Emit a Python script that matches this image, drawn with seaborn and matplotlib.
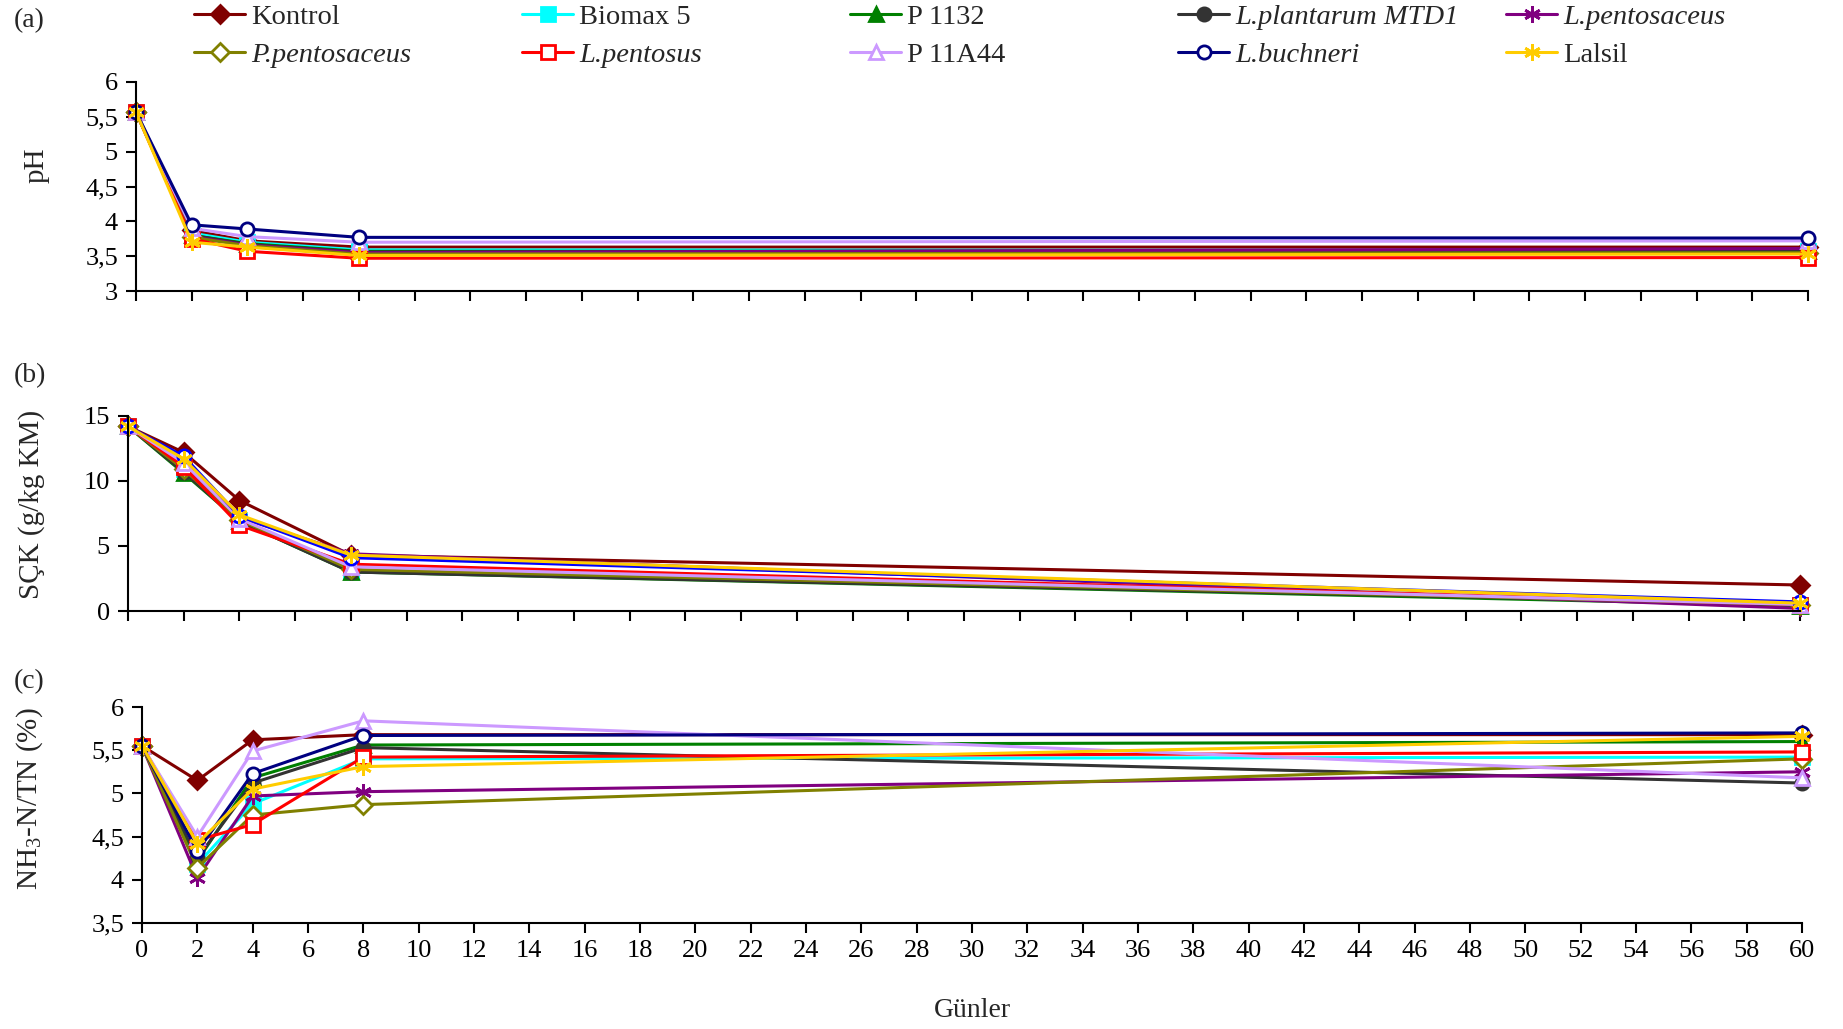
import matplotlib
matplotlib.use('Agg')
import matplotlib.pyplot as plt
from matplotlib.ticker import FuncFormatter, MultipleLocator
import seaborn as sns
import pandas as pd

# Data
days = [0, 2, 4, 8, 60]
groups = ['Kontrol', 'Biomax 5', 'P 1132', 'L.plantarum MTD1', 'L.pentosaceus',
          'P.pentosaceus', 'L.pentosus', 'P 11A44', 'L.buchneri', 'Lalsil']

ph = {
    'Kontrol':          [5.57, 3.87, 3.72, 3.63, 3.63],
    'Biomax 5':         [5.57, 3.83, 3.70, 3.59, 3.58],
    'P 1132':           [5.57, 3.80, 3.68, 3.57, 3.57],
    'L.plantarum MTD1': [5.57, 3.80, 3.67, 3.56, 3.59],
    'L.pentosaceus':    [5.57, 3.78, 3.66, 3.55, 3.61],
    'P.pentosaceus':    [5.57, 3.77, 3.65, 3.53, 3.55],
    'L.pentosus':       [5.57, 3.75, 3.57, 3.47, 3.48],
    'P 11A44':          [5.57, 3.90, 3.78, 3.70, 3.72],
    'L.buchneri':       [5.57, 3.95, 3.89, 3.77, 3.76],
    'Lalsil':           [5.57, 3.70, 3.63, 3.51, 3.53],
}
sck = {
    'Kontrol':          [14.2, 12.2, 8.5, 4.3, 2.0],
    'Biomax 5':         [14.2, 10.9, 7.0, 3.1, 0.5],
    'P 1132':           [14.2, 10.6, 6.9, 3.0, 0.4],
    'L.plantarum MTD1': [14.2, 10.7, 6.9, 3.0, 0.5],
    'L.pentosaceus':    [14.2, 11.2, 7.2, 4.4, 0.2],
    'P.pentosaceus':    [14.2, 10.9, 7.0, 3.2, 0.5],
    'L.pentosus':       [14.2, 11.1, 6.6, 3.6, 0.5],
    'P 11A44':          [14.2, 11.4, 7.1, 3.4, 0.5],
    'L.buchneri':       [14.2, 11.9, 7.3, 4.1, 0.7],
    'Lalsil':           [14.2, 11.7, 7.4, 4.3, 0.6],
}
nh3 = {
    'Kontrol':          [5.55, 5.15, 5.62, 5.68, 5.68],
    'Biomax 5':         [5.55, 4.18, 4.88, 5.40, 5.42],
    'P 1132':           [5.55, 4.22, 5.18, 5.56, 5.60],
    'L.plantarum MTD1': [5.55, 4.25, 5.12, 5.53, 5.12],
    'L.pentosaceus':    [5.55, 4.02, 4.97, 5.02, 5.25],
    'P.pentosaceus':    [5.55, 4.14, 4.75, 4.87, 5.40],
    'L.pentosus':       [5.55, 4.46, 4.64, 5.42, 5.48],
    'P 11A44':          [5.55, 4.50, 5.49, 5.84, 5.18],
    'L.buchneri':       [5.55, 4.33, 5.23, 5.67, 5.70],
    'Lalsil':           [5.55, 4.42, 5.05, 5.31, 5.66],
}

# colour, marker, filled
styles = {
    'Kontrol':          ('#800000', 'D', True),
    'Biomax 5':         ('#00FFFF', 's', True),
    'P 1132':           ('#008000', '^', True),
    'L.plantarum MTD1': ('#333333', 'o', True),
    'L.pentosaceus':    ('#800080', (6, 2, 0), True),
    'P.pentosaceus':    ('#808000', 'D', False),
    'L.pentosus':       ('#FF0000', 's', False),
    'P 11A44':          ('#CC99FF', '^', False),
    'L.buchneri':       ('#000080', 'o', False),
    'Lalsil':           ('#FFCC00', (6, 2, 0), True),
}

sns.set_style('ticks')
plt.rcParams['font.family'] = ['Liberation Serif', 'DejaVu Serif']
plt.rcParams['mathtext.fontset'] = 'custom'
plt.rcParams['mathtext.rm'] = 'Liberation Serif'

W, H = 1843, 1029
fig = plt.figure(figsize=(W / 100, H / 100), dpi=100)


def px_axes(left, right, top, bottom):
    return fig.add_axes([left / W, 1 - bottom / H, (right - left) / W, (bottom - top) / H])


ax_a = px_axes(136, 1808, 82, 291)
ax_b = px_axes(128, 1800, 416, 611)
ax_c = px_axes(142, 1802, 707, 923)

panels = [
    (ax_a, ph, (3, 6), 0.5, 'pH', '(a)', 21),
    (ax_b, sck, (0, 15), 5, 'SÇK (g/kg KM)', '(b)', 376),
    (ax_c, nh3, (3.5, 6), 0.5, 'NH$_\\mathregular{3}$-N/TN (%)', '(c)', 682),
]

comma = FuncFormatter(lambda v, p: f'{v:g}'.replace('.', ','))

for ax, data, ylim, ystep, ylabel, tag, tag_y in panels:
    df = pd.DataFrame([(g, d, v) for g in groups for d, v in zip(days, data[g])],
                      columns=['grup', 'gun', 'deger'])
    for g in groups:
        color, marker, filled = styles[g]
        if ax is ax_b and g == 'L.buchneri':
            color = '#0000FF'
        sub = df[df.grup == g]
        star = isinstance(marker, tuple)
        sns.lineplot(data=sub, x='gun', y='deger', ax=ax, color=color, lw=2.2,
                     marker=marker, markersize=12 if star else 9.5,
                     markerfacecolor=color if filled else 'white',
                     markeredgecolor=color, markeredgewidth=2,
                     label=g, clip_on=False)
    ax.set_xlim(0, 60)
    ax.set_ylim(*ylim)
    ax.xaxis.set_major_locator(MultipleLocator(2))
    ax.yaxis.set_major_locator(MultipleLocator(ystep))
    ax.yaxis.set_major_formatter(comma)
    ax.tick_params(axis='both', direction='out', length=7, width=1.5,
                   labelsize=19, colors='black')
    ax.tick_params(axis='x', pad=5)
    ax.tick_params(axis='y', pad=6)
    for s in ['top', 'right']:
        ax.spines[s].set_visible(False)
    for s in ['left', 'bottom']:
        ax.spines[s].set_linewidth(1.5)
        ax.spines[s].set_color('black')
    ax.set_xlabel('')
    ax.set_ylabel(ylabel, fontsize=21)
    ax.get_legend().remove()
    fig.text(14 / W, 1 - tag_y / H, tag, fontsize=20, va='center', ha='left')

ax_a.yaxis.set_label_coords((50 - 136) / 1672, 0.60)
ax_b.yaxis.set_label_coords((45 - 128) / 1672, 0.544)
ax_c.yaxis.set_label_coords((45 - 142) / 1660, 0.574)

ax_a.tick_params(axis='x', labelbottom=False)
ax_b.tick_params(axis='x', labelbottom=False)
ax_c.set_xlabel('Günler', fontsize=20)
ax_c.xaxis.set_label_coords(0.5, (923 - 998) / 216)

# legend: 5 columns at equal spacing, 2 rows
handles, labels = ax_a.get_legend_handles_labels()
for i in range(5):
    leg = fig.legend([handles[i], handles[i + 5]], [labels[i], labels[i + 5]],
                     loc='upper left', bbox_to_anchor=((194 + 328 * i) / W, 1 - 4 / H),
                     frameon=False, fontsize=20.5, handlelength=1.8, handletextpad=0.2,
                     labelspacing=0.43, borderpad=0, borderaxespad=0)
    for t in leg.get_texts():
        if t.get_text().startswith(('L.', 'P.')):
            t.set_fontstyle('italic')

fig.savefig('out.png', dpi=100)
